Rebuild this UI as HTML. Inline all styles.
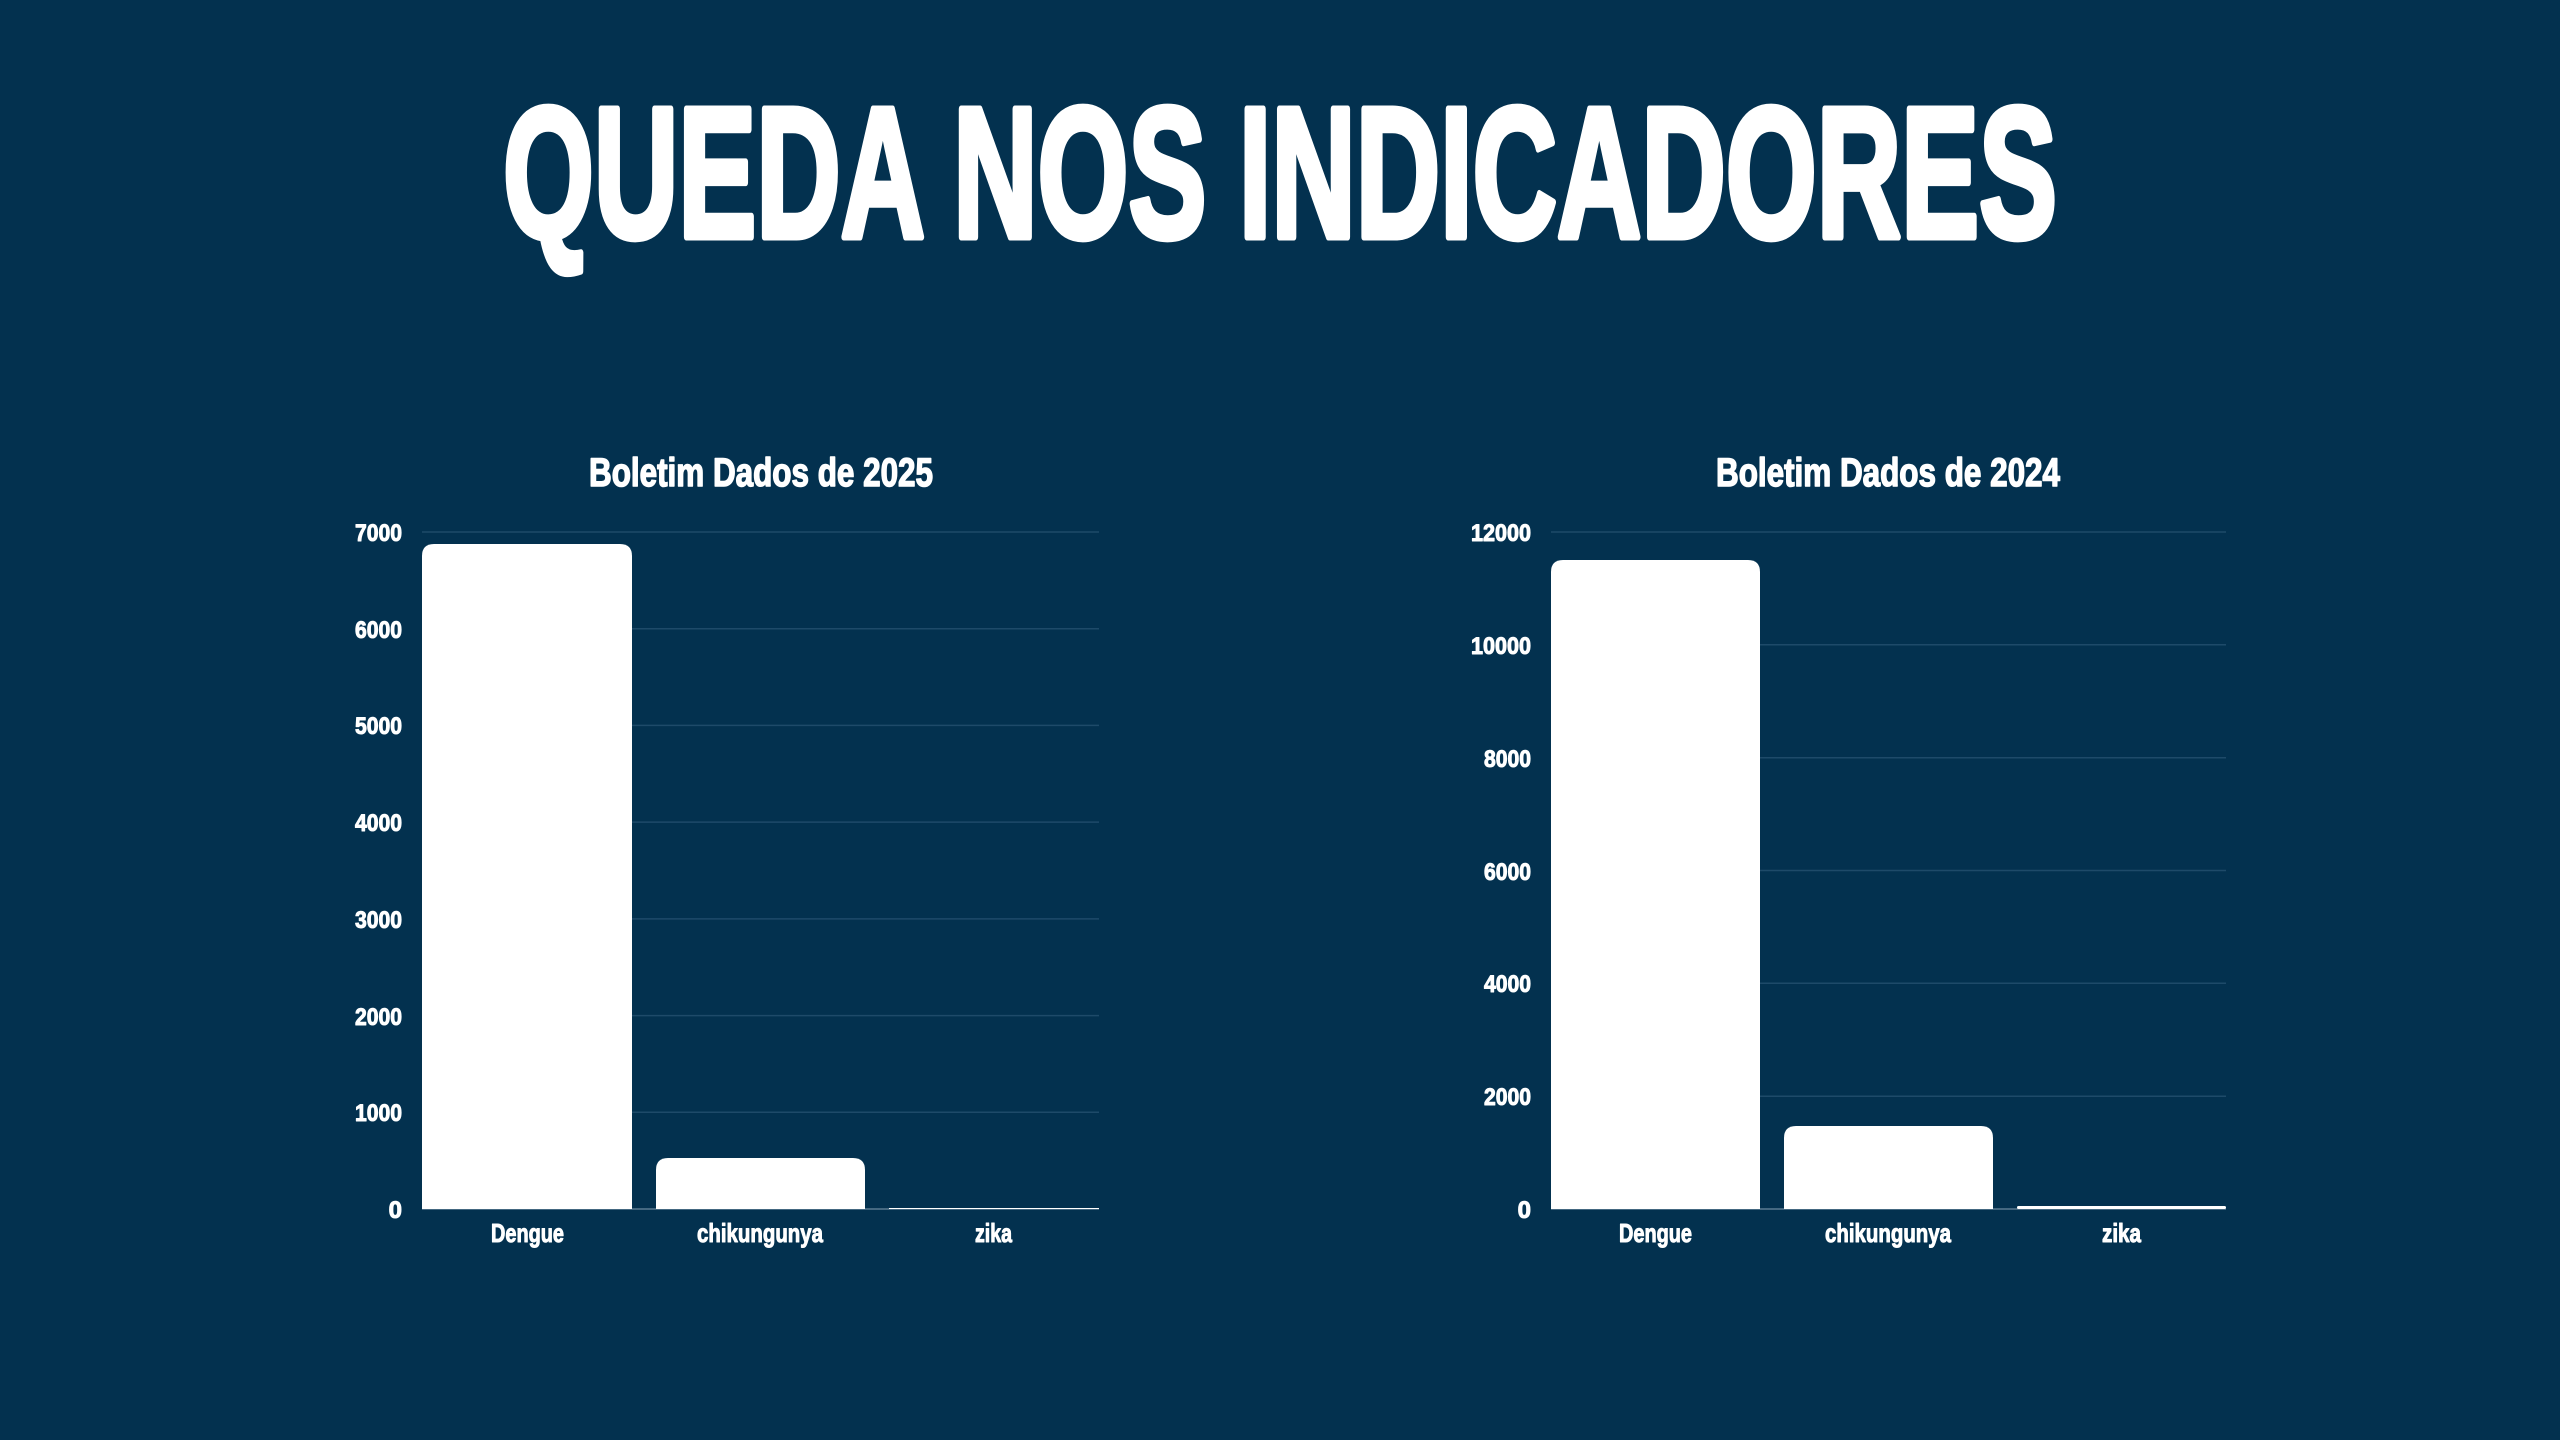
<!DOCTYPE html>
<html><head><meta charset="utf-8"><style>
html,body{margin:0;padding:0;background:#03314f;}
svg{display:block;}
text{font-family:"Liberation Sans",sans-serif;font-weight:bold;fill:#fff;stroke:#fff;stroke-linejoin:round;}
</style></head><body>
<svg width="2560" height="1440" viewBox="0 0 2560 1440" xmlns="http://www.w3.org/2000/svg">
<rect width="2560" height="1440" fill="#03314f"/>
<text x="503" y="237" font-size="186" stroke-width="7" textLength="1554" lengthAdjust="spacingAndGlyphs">QUEDA NOS INDICADORES</text>

<!-- Left chart -->
<text x="589" y="486" font-size="40" stroke-width="1.5" textLength="344" lengthAdjust="spacingAndGlyphs">Boletim Dados de 2025</text>
<g stroke="#1e4a69" stroke-width="1.5">
<line x1="422" x2="1099" y1="532" y2="532"/>
<line x1="422" x2="1099" y1="628.7" y2="628.7"/>
<line x1="422" x2="1099" y1="725.4" y2="725.4"/>
<line x1="422" x2="1099" y1="822.1" y2="822.1"/>
<line x1="422" x2="1099" y1="918.9" y2="918.9"/>
<line x1="422" x2="1099" y1="1015.6" y2="1015.6"/>
<line x1="422" x2="1099" y1="1112.3" y2="1112.3"/>
</g>
<line x1="422" x2="1099" y1="1209" y2="1209" stroke="#5a7a92" stroke-width="1.5"/>
<g font-size="24" text-anchor="end" stroke-width="1">
<text x="402" y="541" textLength="47" lengthAdjust="spacingAndGlyphs">7000</text>
<text x="402" y="638" textLength="47" lengthAdjust="spacingAndGlyphs">6000</text>
<text x="402" y="734" textLength="47" lengthAdjust="spacingAndGlyphs">5000</text>
<text x="402" y="831" textLength="47" lengthAdjust="spacingAndGlyphs">4000</text>
<text x="402" y="928" textLength="47" lengthAdjust="spacingAndGlyphs">3000</text>
<text x="402" y="1025" textLength="47" lengthAdjust="spacingAndGlyphs">2000</text>
<text x="402" y="1121" textLength="47" lengthAdjust="spacingAndGlyphs">1000</text>
<text x="402" y="1218">0</text>
</g>
<path d="M422,1209 V556 Q422,544 434,544 H620 Q632,544 632,556 V1209 Z" fill="#fff"/>
<path d="M656,1209 V1170 Q656,1158 668,1158 H853 Q865,1158 865,1170 V1209 Z" fill="#fff"/>
<rect x="889" y="1208" width="210" height="1" fill="#fff"/>
<g font-size="26" stroke-width="1">
<text x="491" y="1242" textLength="73" lengthAdjust="spacingAndGlyphs">Dengue</text>
<text x="697" y="1242" textLength="126" lengthAdjust="spacingAndGlyphs">chikungunya</text>
<text x="975" y="1242" textLength="37" lengthAdjust="spacingAndGlyphs">zika</text>
</g>

<!-- Right chart -->
<text x="1716" y="486" font-size="40" stroke-width="1.5" textLength="344" lengthAdjust="spacingAndGlyphs">Boletim Dados de 2024</text>
<g stroke="#1e4a69" stroke-width="1.5">
<line x1="1551" x2="2226" y1="532" y2="532"/>
<line x1="1551" x2="2226" y1="644.8" y2="644.8"/>
<line x1="1551" x2="2226" y1="757.7" y2="757.7"/>
<line x1="1551" x2="2226" y1="870.5" y2="870.5"/>
<line x1="1551" x2="2226" y1="983.3" y2="983.3"/>
<line x1="1551" x2="2226" y1="1096.2" y2="1096.2"/>
</g>
<line x1="1551" x2="2226" y1="1209" y2="1209" stroke="#5a7a92" stroke-width="1.5"/>
<g font-size="24" text-anchor="end" stroke-width="1">
<text x="1531" y="541" textLength="60" lengthAdjust="spacingAndGlyphs">12000</text>
<text x="1531" y="654" textLength="60" lengthAdjust="spacingAndGlyphs">10000</text>
<text x="1531" y="767" textLength="47" lengthAdjust="spacingAndGlyphs">8000</text>
<text x="1531" y="880" textLength="47" lengthAdjust="spacingAndGlyphs">6000</text>
<text x="1531" y="992" textLength="47" lengthAdjust="spacingAndGlyphs">4000</text>
<text x="1531" y="1105" textLength="47" lengthAdjust="spacingAndGlyphs">2000</text>
<text x="1531" y="1218">0</text>
</g>
<path d="M1551,1209 V572 Q1551,560 1563,560 H1748 Q1760,560 1760,572 V1209 Z" fill="#fff"/>
<path d="M1784,1209 V1138 Q1784,1126 1796,1126 H1981 Q1993,1126 1993,1138 V1209 Z" fill="#fff"/>
<rect x="2017" y="1206" width="209" height="3" rx="1.5" fill="#fff"/>
<g font-size="26" stroke-width="1">
<text x="1619" y="1242" textLength="73" lengthAdjust="spacingAndGlyphs">Dengue</text>
<text x="1825" y="1242" textLength="126" lengthAdjust="spacingAndGlyphs">chikungunya</text>
<text x="2102" y="1242" textLength="39" lengthAdjust="spacingAndGlyphs">zika</text>
</g>
</svg>
</body></html>
